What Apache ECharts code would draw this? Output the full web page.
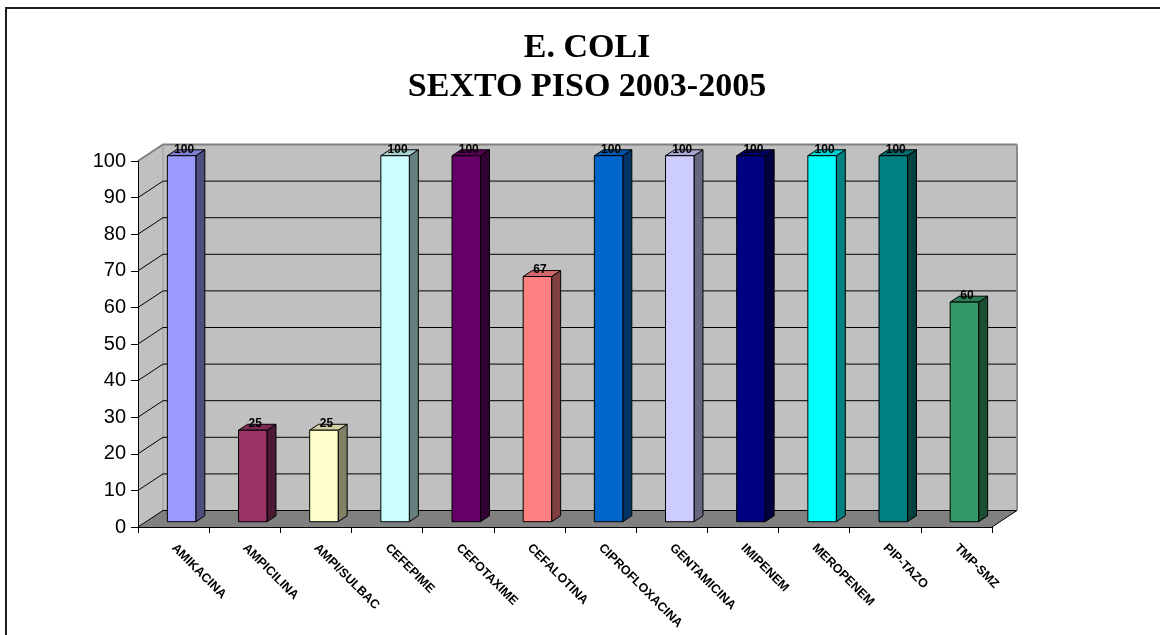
<!DOCTYPE html>
<html>
<head>
<meta charset="utf-8">
<script src="https://cdn.jsdelivr.net/npm/echarts@6/dist/echarts.min.js"></script>
<style>
  html, body { margin: 0; padding: 0; background: #ffffff; }
  #chart { width: 1160px; height: 635px; }
</style>
</head>
<body>
<div id="chart"></div>
<script>
// ---- data ----
const titleLines = ['E. COLI', 'SEXTO PISO 2003-2005'];
const categories = ['AMIKACINA', 'AMPICILINA', 'AMPI/SULBAC', 'CEFEPIME', 'CEFOTAXIME', 'CEFALOTINA',
  'CIPROFLOXACINA', 'GENTAMICINA', 'IMIPENEM', 'MEROPENEM', 'PIP-TAZO', 'TMP-SMZ'];
const values = [100, 25, 25, 100, 100, 67, 100, 100, 100, 100, 100, 60];
const barColors = ['#9999FF', '#993366', '#FFFFCC', '#CCFFFF', '#660066', '#FF8080',
  '#0066CC', '#CCCCFF', '#000080', '#00FFFF', '#008080', '#339966'];
const yTickValues = [0, 10, 20, 30, 40, 50, 60, 70, 80, 90, 100];

// ---- 3D box geometry (pixel offsets of the back plane) ----
const DEPTH_X = 25;
const DEPTH_Y = -16.5;
const BAR_FRONT = 0.32;   // bar front face, as a fraction of the depth
const BAR_BACK = 0.68;    // bar back face
const BAR_WIDTH = 0.40;   // bar width, as a fraction of the category band

const SANS = '"Liberation Sans", Arial, sans-serif';
const SERIF = '"Liberation Serif", "Times New Roman", serif';

function shade(hex, k) {
  const n = parseInt(hex.slice(1), 16);
  const r = Math.round(((n >> 16) & 255) * k);
  const g = Math.round(((n >> 8) & 255) * k);
  const b = Math.round((n & 255) * k);
  return 'rgb(' + r + ',' + g + ',' + b + ')';
}

// back wall, side wall, floor and gridlines
function renderWalls(params, api) {
  const cs = params.coordSys;
  const x0 = cs.x, x1 = cs.x + cs.width;
  const yb = api.coord([0, yTickValues[0]])[1];
  const yt = api.coord([0, yTickValues[yTickValues.length - 1]])[1];
  const dx = DEPTH_X, dy = DEPTH_Y;
  const children = [];
  children.push({
    type: 'polygon',
    shape: { points: [[x0, yt], [x0 + dx, yt + dy], [x0 + dx, yb + dy], [x0, yb]] },
    style: { fill: '#c0c0c0', stroke: null }
  });
  children.push({
    type: 'rect',
    shape: { x: x0 + dx, y: yt + dy, width: x1 - x0, height: yb - yt },
    style: { fill: '#c0c0c0', stroke: null }
  });
  children.push({
    type: 'polygon',
    shape: { points: [[x0, yb], [x1, yb], [x1 + dx, yb + dy], [x0 + dx, yb + dy]] },
    style: { fill: '#808080', stroke: null }
  });
  // edge between side wall and back wall
  children.push({
    type: 'line',
    shape: { x1: x0 + dx, y1: yt + dy, x2: x0 + dx, y2: yb + dy },
    style: { stroke: '#9a9a9a', lineWidth: 1 }
  });
  yTickValues.forEach(function (v, i) {
    const y = api.coord([0, v])[1];
    const last = i === yTickValues.length - 1;
    children.push({
      type: 'polyline',
      shape: { points: [[x0, y], [x0 + dx, y + dy], [x1 + dx, y + dy]] },
      style: { stroke: last ? '#808080' : '#000000', lineWidth: last ? 2 : 1, fill: null }
    });
  });
  // right edge of back wall and floor
  children.push({
    type: 'line',
    shape: { x1: x1 + dx, y1: yt + dy, x2: x1 + dx, y2: yb + dy },
    style: { stroke: '#8a8a8a', lineWidth: 2 }
  });
  children.push({
    type: 'line',
    shape: { x1: x1, y1: yb, x2: x1 + dx, y2: yb + dy },
    style: { stroke: '#000000', lineWidth: 1 }
  });
  return { type: 'group', children: children };
}

// one 3D column per category
function renderBar(params, api) {
  const idx = api.value(0);
  const v = api.value(1);
  const top = api.coord([idx, v]);
  const base = api.coord([idx, 0]);
  const band = api.size([1, 0])[0];
  const w = band * BAR_WIDTH;
  const fx = DEPTH_X * BAR_FRONT, fy = DEPTH_Y * BAR_FRONT;
  const ddx = DEPTH_X * (BAR_BACK - BAR_FRONT), ddy = DEPTH_Y * (BAR_BACK - BAR_FRONT);
  const xl = top[0] - w / 2 + fx;
  const xr = xl + w;
  const yt = top[1] + fy;
  const yb = base[1] + fy;
  const color = barColors[idx];
  const edge = { stroke: '#000000', lineWidth: 1 };
  return {
    type: 'group',
    children: [
      {
        type: 'polygon',
        shape: { points: [[xr, yt], [xr + ddx, yt + ddy], [xr + ddx, yb + ddy], [xr, yb]] },
        style: Object.assign({ fill: shade(color, 0.5) }, edge)
      },
      {
        type: 'polygon',
        shape: { points: [[xl, yt], [xr, yt], [xr + ddx, yt + ddy], [xl + ddx, yt + ddy]] },
        style: Object.assign({ fill: shade(color, 0.82) }, edge)
      },
      {
        type: 'rect',
        shape: { x: xl, y: yt, width: w, height: yb - yt },
        style: Object.assign({ fill: color }, edge)
      },
      {
        type: 'text',
        style: {
          x: (xl + xr) / 2 + 2.5,
          y: yt + ddy - 0.5,
          text: String(v),
          align: 'center',
          verticalAlign: 'middle',
          fill: '#000000',
          font: 'bold 12px ' + SANS
        }
      }
    ]
  };
}

const chart = echarts.init(document.getElementById('chart'), null, { renderer: 'canvas' });

chart.setOption({
  animation: false,
  backgroundColor: '#ffffff',
  graphic: [
    {
      type: 'rect',
      shape: { x: 6, y: 8, width: 1200, height: 700 },
      style: { fill: null, stroke: '#1e1e1e', lineWidth: 2 },
      z: 0
    },
    {
      type: 'text',
      style: { x: 587, y: 48, text: titleLines[0], align: 'center', verticalAlign: 'middle',
        fill: '#000000', font: 'bold 34px ' + SERIF },
      z: 10
    },
    {
      type: 'text',
      style: { x: 587, y: 87, text: titleLines[1], align: 'center', verticalAlign: 'middle',
        fill: '#000000', font: 'bold 34px ' + SERIF },
      z: 10
    }
  ],
  grid: { left: 138, right: 168, top: 161, bottom: 108, containLabel: false },
  xAxis: {
    type: 'category',
    data: categories,
    boundaryGap: true,
    z: 3,
    axisLine: { show: true, lineStyle: { color: '#000000', width: 1 } },
    axisTick: { show: true, alignWithLabel: false, length: 6, lineStyle: { color: '#000000' } },
    axisLabel: {
      interval: 0,
      rotate: -45,
      margin: 19,
      color: '#000000',
      fontFamily: SANS,
      fontWeight: 'bold',
      fontSize: 12.5
    },
    splitLine: { show: false }
  },
  yAxis: {
    type: 'value',
    min: 0,
    max: 100,
    interval: 10,
    z: 3,
    axisLine: { show: true, lineStyle: { color: '#000000', width: 1 } },
    axisTick: { show: true, inside: false, length: 7, lineStyle: { color: '#000000' } },
    axisLabel: { margin: 12, color: '#000000', fontFamily: SANS, fontSize: 20 },
    splitLine: { show: false }
  },
  series: [
    {
      type: 'custom',
      name: 'walls',
      z: 1,
      silent: true,
      renderItem: renderWalls,
      data: [[0, 0]]
    },
    {
      type: 'custom',
      name: 'E. COLI',
      z: 4,
      renderItem: renderBar,
      encode: { x: 0, y: 1 },
      data: values.map(function (v, i) { return [i, v]; })
    }
  ]
});
</script>
</body>
</html>
